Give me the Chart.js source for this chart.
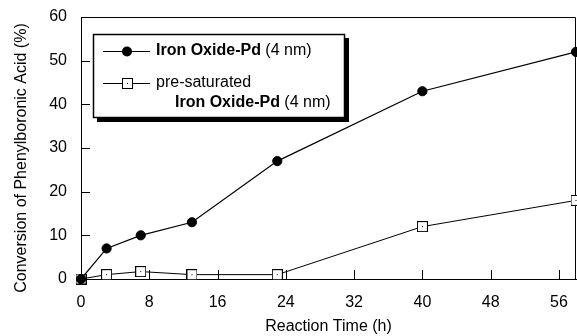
<!DOCTYPE html>
<html>
<head>
<meta charset="utf-8">
<script src="https://cdn.jsdelivr.net/npm/chart.js@4"></script>
<style>
  html, body { margin: 0; padding: 0; background: #fff; }
  #wrap { width: 577px; height: 336px; }
</style>
</head>
<body>
<div id="wrap"><canvas id="chart" width="577" height="336"></canvas></div>
<script>
// values
const hours = [0, 3, 7, 13, 23, 40, 58];
const ironOxidePd = [0, 7, 10, 13, 27, 43, 52];
const preSaturated = [0, 1, 1.7, 1, 1, 12, 18];
const xTicks = [0, 8, 16, 24, 32, 40, 48, 56];
const yTicks = [0, 10, 20, 30, 40, 50, 60];
const xTitle = "Reaction Time (h)";
const yTitle = "Conversion of Phenylboronic Acid (%)";
const legendBold = "Iron Oxide-Pd";
const legendSize = " (4 nm)";
const legendPre = "pre-saturated";

const FONT = "'Liberation Sans', Arial, sans-serif";

function toPoints(xs, ys) {
  return xs.map((x, i) => ({ x, y: ys[i] }));
}

// open square with a dot in the middle
function squareMarker() {
  const c = document.createElement("canvas");
  c.width = 11;
  c.height = 11;
  const g = c.getContext("2d");
  g.fillStyle = "#fff";
  g.fillRect(0.5, 0.5, 10, 10);
  g.strokeStyle = "#000";
  g.lineWidth = 1;
  g.strokeRect(0.5, 0.5, 10, 10);
  g.fillStyle = "#000";
  g.fillRect(5, 5, 1, 1);
  return c;
}
const square = squareMarker();

const framePlugin = {
  id: "frame",
  beforeDatasetsDraw(chart) {
    const { ctx, chartArea: a, scales } = chart;
    ctx.save();
    ctx.strokeStyle = "#000";
    ctx.lineWidth = 1;
    ctx.beginPath();
    ctx.moveTo(a.left, a.top + 0.5);
    ctx.lineTo(a.right - 0.5, a.top + 0.5);
    ctx.lineTo(a.right - 0.5, a.bottom);
    // inward tick marks
    xTicks.forEach((v) => {
      const px = Math.round(scales.x.getPixelForValue(v)) + 0.5;
      ctx.moveTo(px, a.bottom);
      ctx.lineTo(px, a.bottom - 9);
    });
    yTicks.forEach((v) => {
      const py = Math.round(scales.y.getPixelForValue(v)) + 0.5;
      ctx.moveTo(a.left, py);
      ctx.lineTo(a.left + 9, py);
    });
    ctx.stroke();
    ctx.restore();
  },
  afterDatasetsDraw(chart) {
    const { ctx } = chart;
    ctx.save();
    // legend box with drop shadow
    ctx.fillStyle = "#000";
    ctx.fillRect(97, 38, 252, 84);
    ctx.fillStyle = "#fff";
    ctx.fillRect(93, 34, 252, 84);
    ctx.strokeStyle = "#000";
    ctx.lineWidth = 1.5;
    ctx.strokeRect(93.5, 34.5, 251, 83);

    ctx.lineWidth = 1;
    ctx.beginPath();
    ctx.moveTo(103, 51.5);
    ctx.lineTo(150, 51.5);
    ctx.moveTo(103, 83.5);
    ctx.lineTo(150, 83.5);
    ctx.stroke();
    ctx.fillStyle = "#000";
    ctx.beginPath();
    ctx.arc(127, 51.5, 5, 0, Math.PI * 2);
    ctx.fill();
    ctx.drawImage(square, 122, 78);

    ctx.textBaseline = "middle";
    ctx.textAlign = "left";
    ctx.font = "bold 16px " + FONT;
    ctx.fillText(legendBold, 156, 51);
    let w = ctx.measureText(legendBold).width;
    ctx.font = "16px " + FONT;
    ctx.fillText(legendSize, 156 + w, 51);
    ctx.fillText(legendPre, 156, 83);
    ctx.font = "bold 16px " + FONT;
    ctx.fillText(legendBold, 175, 103);
    w = ctx.measureText(legendBold).width;
    ctx.font = "16px " + FONT;
    ctx.fillText(legendSize, 175 + w, 103);

    // y axis title
    ctx.translate(22, 158);
    ctx.rotate(-Math.PI / 2);
    ctx.textAlign = "center";
    ctx.fillText(yTitle, 0, 0);
    ctx.restore();
  },
};

new Chart(document.getElementById("chart"), {
  type: "line",
  data: {
    datasets: [
      {
        label: legendBold + legendSize,
        data: toPoints(hours, ironOxidePd),
        borderColor: "#000",
        borderWidth: 1.2,
        backgroundColor: "#000",
        pointStyle: "circle",
        pointRadius: 4.6,
        pointBorderWidth: 1,
        pointBackgroundColor: "#000",
        clip: false,
      },
      {
        label: legendPre + " " + legendBold + legendSize,
        data: toPoints(hours, preSaturated),
        borderColor: "#000",
        borderWidth: 1,
        pointStyle: square,
        clip: false,
      },
    ],
  },
  options: {
    responsive: false,
    animation: false,
    events: [],
    layout: { autoPadding: false, padding: { top: 17, right: 1, left: 0, bottom: 0 } },
    plugins: {
      legend: { display: false },
      tooltip: { enabled: false },
    },
    scales: {
      x: {
        type: "linear",
        min: 0,
        max: 58,
        afterBuildTicks: (s) => {
          s.ticks = xTicks.map((v) => ({ value: v }));
        },
        afterFit: (s) => {
          s.height = 57;
          s.paddingLeft = 0;
          s.paddingRight = 0;
        },
        grid: { display: false, drawTicks: false },
        border: { display: true, color: "#000", width: 1 },
        ticks: {
          color: "#000",
          font: { family: FONT, size: 16 },
          padding: 14,
          maxRotation: 0,
        },
        title: {
          display: true,
          text: xTitle,
          color: "#000",
          font: { family: FONT, size: 16 },
          padding: { top: 0, bottom: 0 },
        },
      },
      y: {
        min: 0,
        max: 60,
        afterBuildTicks: (s) => {
          s.ticks = yTicks.map((v) => ({ value: v }));
        },
        afterFit: (s) => {
          s.width = 81;
          s.paddingTop = 0;
          s.paddingBottom = 0;
        },
        grid: { display: false, drawTicks: false },
        border: { display: true, color: "#000", width: 1 },
        ticks: {
          color: "#000",
          font: { family: FONT, size: 16 },
          padding: 14,
        },
      },
    },
  },
  plugins: [framePlugin],
});
</script>
</body>
</html>
